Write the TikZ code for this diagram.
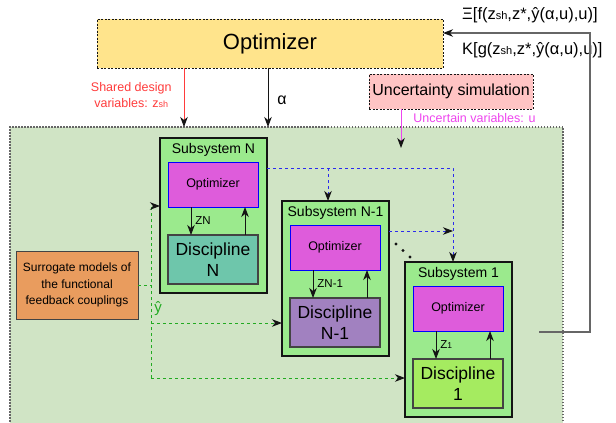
\documentclass[tikz,border=0pt]{standalone}
\usepackage{fontspec}
\setmainfont{Liberation Sans}
\usetikzlibrary{arrows.meta,positioning,calc}
\definecolor{Ink}{HTML}{141414}
\definecolor{OptYellow}{HTML}{FFE48C}
\definecolor{SimPink}{HTML}{FFC4C4}
\definecolor{Field}{HTML}{D0E4C5}
\definecolor{SubGreen}{HTML}{9BEA8D}
\definecolor{OptMagenta}{HTML}{DE5CDB}
\definecolor{DiscTeal}{HTML}{6EC6AB}
\definecolor{DiscViolet}{HTML}{A181C0}
\definecolor{DiscLime}{HTML}{A5EB60}
\definecolor{Surr}{HTML}{E99C5E}
\definecolor{ShareRed}{HTML}{FF3B3B}
\definecolor{UncMagenta}{HTML}{EE44EE}
\definecolor{LinkBlue}{HTML}{2B2BEE}
\definecolor{LinkGreen}{HTML}{22AA22}
\definecolor{Feedback}{HTML}{666666}
\newcommand{\subsystem}[7]{%
  \node[subbox,anchor=north west] (#1) at (#2,#3) {};
  \node[anchor=base,inner sep=0,font=\fontsize{14}{16}\selectfont] (#1title)
    at ([yshift=-15pt]#1.north) {#4};
  \node[optbox,anchor=north west] (#1opt) at ([xshift=8pt,yshift=-24pt]#1.north west) {Optimizer};
  \node[discbox,fill=#6,anchor=north west] (#1disc)
    at ([xshift=8pt,yshift=-97pt]#1.north west) {Discipline\\#5};
  \draw[arr] ([xshift=23pt]#1opt.south west) --
    node[right=4pt,inner sep=0,font=\fontsize{11.5}{12}\selectfont] {#7}
    ([xshift=23pt]#1disc.north west);
  \draw[arr] ([xshift=-13pt]#1disc.north east) -- ([xshift=-13pt]#1opt.south east);
}

\begin{document}
\begin{tikzpicture}[x=1pt,y=-1pt,
    head/.style={-{Stealth[length=10pt,width=7.5pt,inset=3pt,color=Ink]}},
    arr/.style={draw=Ink,line width=0.9pt,head},
    gdash/.style={LinkGreen,line width=1pt,dash pattern=on 3pt off 3pt},
    bdash/.style={LinkBlue,line width=1pt,dash pattern=on 3pt off 3pt},
    subbox/.style={draw=Ink,line width=1.5pt,fill=SubGreen,minimum width=107pt,
      minimum height=155pt,inner sep=0,outer sep=0},
    optbox/.style={draw=blue,line width=0.9pt,fill=OptMagenta,minimum width=90pt,
      minimum height=45pt,inner sep=0,outer sep=0,font=\fontsize{12.5}{14}\selectfont},
    discbox/.style={draw=Ink!80,line width=1.2pt,minimum width=90pt,minimum height=49pt,
      inner sep=0,outer sep=0,align=center,font=\fontsize{17.5}{21}\selectfont}]
  \useasboundingbox (0,0) rectangle (616,423);

  % environment and top level
  \node[draw=Feedback,line width=1.3pt,dash pattern=on 1.5pt off 1.5pt,fill=Field,
        anchor=north west,minimum width=553pt,minimum height=320pt,inner sep=0,outer sep=0]
    (field) at (10,127) {};
  \node[draw=Ink,line width=0.9pt,dash pattern=on 2pt off 1.5pt,fill=OptYellow,
        anchor=north west,minimum width=346pt,minimum height=49pt,inner sep=0,outer sep=0,
        font=\fontsize{22}{26}\selectfont] (opt) at (97,19) {Optimizer};
  \node[draw=Ink,line width=0.9pt,dash pattern=on 2pt off 1.5pt,fill=SimPink,
        anchor=north west,minimum width=164pt,minimum height=35pt,inner sep=0,outer sep=0,
        font=\fontsize{16}{18}\selectfont] (unc) at (369,74) {Uncertainty simulation};
  \node[anchor=west,inner sep=0,font=\fontsize{16.5}{18}\selectfont] (xiexpr) at (462,15)
    {Ξ[f(z{\fontsize{11}{12}\selectfont sh},z*,ŷ(α,u),u)]};
  \node[anchor=west,inner sep=0,font=\fontsize{16.5}{18}\selectfont] (kexpr) at (462,50)
    {K[g(z{\fontsize{11}{12}\selectfont sh},z*,ŷ(α,u),u)]};

  \coordinate (zshx) at (184,0);
  \coordinate (alphax) at (268,0);
  \coordinate (uend) at (401,148);
  \draw[ShareRed,line width=0.9pt,head] (opt.south -| zshx) --
    node[left=12pt,pos=0.45,inner sep=0,align=center,text=ShareRed,
         font=\fontsize{12.5}{16}\selectfont]
      {Shared design\\variables: z{\fontsize{9}{10}\selectfont sh}}
    (field.north -| zshx);
  \draw[arr] (opt.south -| alphax) --
    node[right=9pt,pos=0.55,inner sep=0,font=\fontsize{16}{18}\selectfont] {α}
    (field.north -| alphax);
  \draw[UncMagenta,line width=0.9pt,head] (unc.south -| uend) --
    node[right=12pt,pos=0.23,inner sep=0,text=UncMagenta,font=\fontsize{12.5}{14}\selectfont]
      {Uncertain variables: u}
    (uend);

  % subsystems
  \subsystem{sN}{160}{138}{Subsystem N}{N}{DiscTeal}{ZN}
  \subsystem{sM}{282}{201}{Subsystem N-1}{N-1}{DiscViolet}{ZN-1}
  \subsystem{sA}{405}{262}{Subsystem 1}{1}{DiscLime}{Z{\fontsize{8.5}{9}\selectfont 1}}

  % shared links between subsystems
  \coordinate (bsplit) at (328,168);
  \coordinate (bturn) at (453,168);
  \coordinate (bjoin) at (453,231);
  \draw[bdash,head] (sN.east |- bsplit) -- (bturn) -- (bturn |- sA.north);
  \draw[bdash,head] (bsplit) -- (bsplit |- sM.north);
  \draw[bdash,head] (sM.east |- bjoin) -- (bjoin);
  \foreach \d in {0,1,2}
    \fill[Ink] (396+7*\d,244+6.5*\d) circle (1.7pt);

  % surrogate couplings
  \node[draw=Ink!80,line width=1pt,fill=Surr,anchor=north west,minimum width=122pt,
        minimum height=68pt,inner sep=0,outer sep=0,align=center,
        font=\fontsize{12}{16.5}\selectfont] (sur) at (16,251)
    {Surrogate models of\\the functional\\feedback couplings};
  \coordinate (gtop) at (151,206);
  \coordinate (gmid) at (151,323);
  \coordinate (gbot) at (151,378);
  \draw[gdash] (sur.east) -- (sur.east -| gtop);
  \draw[gdash,head] (gbot) -- (gtop) -- (sN.west |- gtop);
  \draw[gdash,head] (gmid) -- (sM.west |- gmid);
  \draw[gdash,head] (gbot) -- (sA.west |- gbot);
  \node[text=LinkGreen,inner sep=0,font=\fontsize{15}{16}\selectfont] (yhat) at (158,309) {ŷ};

  % feedback to the optimizer
  \coordinate (fbstart) at (539,332);
  \coordinate (fbcorner) at (590,33);
  \draw[Feedback,line width=1.2pt,head] (fbstart) -| (fbcorner) -- (opt.east |- fbcorner);
\end{tikzpicture}
\end{document}
